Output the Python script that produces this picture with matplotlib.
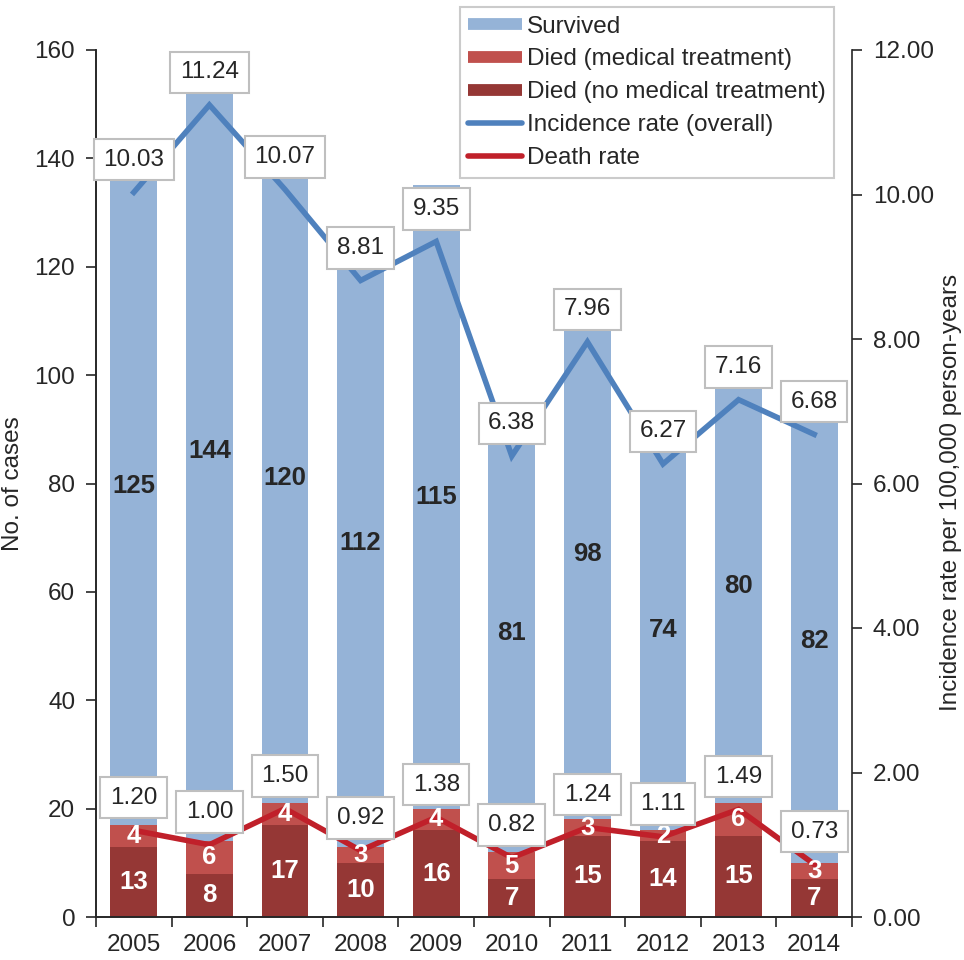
import numpy as np
import matplotlib
matplotlib.use("Agg")
import matplotlib.pyplot as plt
from matplotlib.lines import Line2D

plt.rcParams['font.family'] = ['Liberation Sans', 'DejaVu Sans']
plt.rcParams['text.color'] = '#262626'
plt.rcParams['axes.labelcolor'] = '#262626'
plt.rcParams['xtick.color'] = '#262626'
plt.rcParams['ytick.color'] = '#262626'

years = ['2005', '2006', '2007', '2008', '2009', '2010', '2011', '2012', '2013', '2014']
died_no_treatment = [13, 8, 17, 10, 16, 7, 15, 14, 15, 7]
died_treatment = [4, 6, 4, 3, 4, 5, 3, 2, 6, 3]
survived = [125, 144, 120, 112, 115, 81, 98, 74, 80, 82]
incidence_rate = [10.03, 11.24, 10.07, 8.81, 9.35, 6.38, 7.96, 6.27, 7.16, 6.68]
death_rate = [1.20, 1.00, 1.50, 0.92, 1.38, 0.82, 1.24, 1.11, 1.49, 0.73]

c_surv = '#95B3D7'
c_med = '#C0504D'
c_nomed = '#953735'
c_inc = '#4F81BD'
c_death = '#C0202A'
fs = 17.5
fs_bar = 18.5

fig = plt.figure(figsize=(9.64, 9.60), dpi=100)
ax = fig.add_axes([96 / 964, 1 - 917 / 960, (852 - 96) / 964, (917 - 50) / 960])
ax2 = ax.twinx()

x = np.arange(len(years))
w = 0.62
d1 = np.array(died_no_treatment)
d2 = np.array(died_treatment)
s = np.array(survived)

ax.bar(x, d1, w, color=c_nomed, zorder=2)
ax.bar(x, d2, w, bottom=d1, color=c_med, zorder=2)
ax.bar(x, s, w, bottom=d1 + d2, color=c_surv, zorder=2)

ax.set_xlim(-0.5, len(years) - 0.5)
ax.set_ylim(0, 160)
ax.set_yticks(range(0, 161, 20))
ax.set_xticks(x)
ax.set_xticklabels(years)
ax.set_xticks(np.arange(-0.5, len(years)), minor=True)
ax.tick_params(axis='x', which='major', length=0, labelsize=fs, pad=12)
ax.tick_params(axis='x', which='minor', length=7, width=1.2, direction='out')
ax.tick_params(axis='y', length=7, width=1.2, direction='out', labelsize=fs, pad=8)
ax.set_ylabel('No. of cases', fontsize=fs)
ax.yaxis.set_label_coords(-0.095, 0.5)

ax2.plot(x, incidence_rate, color=c_inc, lw=4, solid_joinstyle='miter', zorder=3)
ax2.plot(x, death_rate, color=c_death, lw=4, solid_joinstyle='miter', zorder=3)
ax2.set_ylim(0, 12)
ax2.set_yticks(np.arange(0, 12.01, 2))
ax2.set_yticklabels([f'{v:.2f}' for v in np.arange(0, 12.01, 2)])
ax2.tick_params(axis='y', length=7, width=1.2, direction='out', labelsize=fs, pad=8)
ax2.set_ylabel('Incidence rate per 100,000 person-years', fontsize=fs)
ax2.yaxis.set_label_coords(1.117, 0.49)

for a in (ax, ax2):
    a.spines['top'].set_visible(False)
    for sp in ('left', 'right', 'bottom'):
        a.spines[sp].set_linewidth(1.2)
        a.spines[sp].set_color('#262626')
ax.spines['right'].set_visible(False)

# bar segment values, drawn above the rate lines
for i in range(len(years)):
    ax2.text(x[i], d1[i] / 2, str(d1[i]), transform=ax.transData, ha='center', va='center',
             color='white', fontsize=fs_bar, fontweight='bold', zorder=5)
    ax2.text(x[i], d1[i] + d2[i] / 2, str(d2[i]), transform=ax.transData, ha='center', va='center',
             color='white', fontsize=fs_bar, fontweight='bold', zorder=5)
    ax2.text(x[i], d1[i] + d2[i] + s[i] / 2, str(s[i]), transform=ax.transData, ha='center',
             va='center', color='#262626', fontsize=fs_bar, fontweight='bold', zorder=5)

box = dict(boxstyle='square,pad=0.4', fc='white', ec='#BFBFBF', lw=1.5)
for series in (incidence_rate, death_rate):
    for i, v in enumerate(series):
        ax2.annotate(f'{v:.2f}', (x[i], v), xytext=(0, 23.5), textcoords='offset points',
                     ha='center', va='center', fontsize=fs, bbox=box, zorder=6)

handles = [
    Line2D([], [], color=c_surv, lw=8.5, solid_capstyle='butt'),
    Line2D([], [], color=c_med, lw=8.5, solid_capstyle='butt'),
    Line2D([], [], color=c_nomed, lw=8.5, solid_capstyle='butt'),
    Line2D([], [], color=c_inc, lw=4, solid_capstyle='round'),
    Line2D([], [], color=c_death, lw=4, solid_capstyle='round'),
]
labels = ['Survived', 'Died (medical treatment)', 'Died (no medical treatment)',
          'Incidence rate (overall)', 'Death rate']
leg = fig.legend(handles, labels, loc='upper right', bbox_to_anchor=(834 / 964, 1 - 7 / 960),
                 bbox_transform=fig.transFigure, fontsize=fs, frameon=True, fancybox=False,
                 handlelength=2.2, handletextpad=0.2, borderpad=0.35, labelspacing=0.45,
                 borderaxespad=0)
leg.get_frame().set_edgecolor('#BFBFBF')
leg.get_frame().set_linewidth(1.5)
leg.set_zorder(10)

fig.savefig('out.png', dpi=100)
